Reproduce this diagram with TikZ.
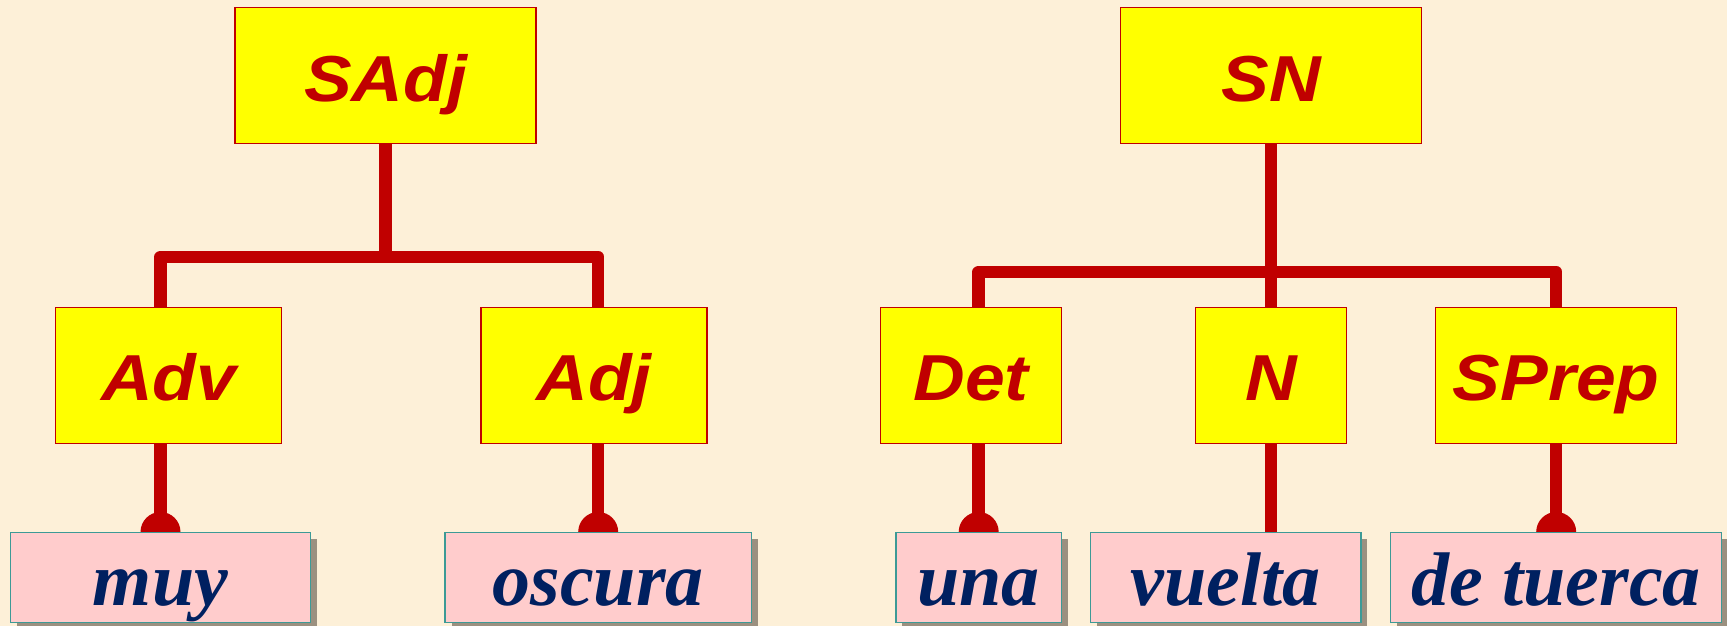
\documentclass[tikz,border=0pt]{standalone}
\usepackage{fontspec}
\setmainfont{Liberation Serif}
\newfontfamily\lsans[FakeStretch=1.1]{Liberation Sans}
\usetikzlibrary{shadows}
\definecolor{bgc}{HTML}{FDF0D8}
\definecolor{treered}{HTML}{C00000}
\definecolor{ybox}{HTML}{FFFF00}
\definecolor{pbox}{HTML}{FFCCCC}
\definecolor{pborder}{HTML}{3C9A96}
\definecolor{wordblue}{HTML}{002060}
\definecolor{shadowc}{HTML}{9B9080}
\pgfdeclarelayer{back}
\pgfdeclarelayer{bg}
\pgfsetlayers{back,bg,main}
\tikzset{
  cat/.style={draw=treered, line width=1.5pt, fill=ybox, inner sep=0pt,
    minimum height=135.6pt, text=treered, text depth=0pt,
    font=\lsans\bfseries\itshape\fontsize{65}{78}\selectfont},
  cattop/.style={cat, minimum height=136pt, text height=52.8pt},
  catmid/.style={cat, text height=50.4pt},
  word/.style={draw=pborder, line width=1.4pt, fill=pbox, inner sep=0pt,
    minimum height=90pt, text=wordblue, text height=54.6pt, text depth=0pt,
    font=\bfseries\itshape\fontsize{76}{90}\selectfont,
    drop shadow={shadow xshift=6.5pt, shadow yshift=-6.5pt, fill=shadowc, opacity=1}},
  branch/.style={draw=treered, line width=12.5pt, line join=round},
  knob/.style={fill=treered}
}
\begin{document}
\begin{tikzpicture}[x=1pt,y=-1pt]
\begin{pgfonlayer}{back}
\fill[bgc] (0,0) rectangle (1727,626);
\end{pgfonlayer}
\useasboundingbox (0,0) rectangle (1727,626);
% top categories
\node[cattop, minimum width=301pt] (sadj) at (385.5,75.3) {SAdj};
\node[cattop, minimum width=300.6pt] (sn) at (1271,75.3) {SN};
% middle categories
\node[catmid, minimum width=226pt] (adv) at (168.7,375.5) {Adv};
\node[catmid, minimum width=226pt] (adj) at (594,375.5) {Adj};
\node[catmid, minimum width=180.6pt] (det) at (971,375.5) {Det};
\node[catmid, minimum width=151pt] (n) at (1271.2,375.5) {N};
\node[catmid, minimum width=241pt] (sprep) at (1556.2,375.5) {SPrep};
% words
\node[word, minimum width=300pt] (muy) at (160.5,577.7) {muy};
\node[word, minimum width=306.3pt] (oscura) at (598.2,577.7) {oscura};
\node[word, minimum width=165.6pt] (una) at (978.7,577.7) {una};
\node[word, minimum width=270.3pt] (vuelta) at (1225.8,577.7) {vuelta};
\node[word, minimum width=331pt] (detuerca) at (1556.2,577.7) {de tuerca};
% bar levels
\coordinate (barL) at (0,257);
\coordinate (barR) at (0,272);
\begin{pgfonlayer}{bg}
\draw[branch] (sadj.south) -- (sadj.south |- barL);
\draw[branch] (muy.north) -- (muy.north |- barL) -- (oscura.north |- barL) -- (oscura.north);
\draw[branch] (sn.south) -- (sn.south |- vuelta.north);
\draw[branch] (una.north) -- (una.north |- barR) -- (detuerca.north |- barR) -- (detuerca.north);
\fill[knob] (muy.north) circle (20pt);
\fill[knob] (oscura.north) circle (20pt);
\fill[knob] (una.north) circle (20pt);
\fill[knob] (detuerca.north) circle (20pt);
\end{pgfonlayer}
\end{tikzpicture}
\end{document}
